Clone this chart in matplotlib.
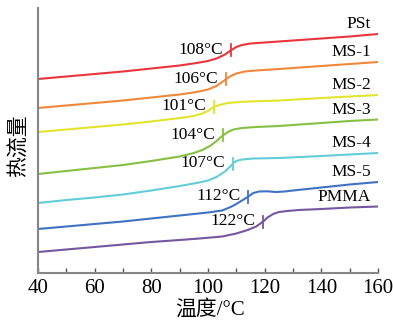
import matplotlib
matplotlib.use("Agg")
import matplotlib.pyplot as plt
import numpy as np

plt.rcParams['font.family'] = ['Liberation Serif', 'Noto Sans CJK SC']

# DSC traces, heat flow in arbitrary stacked units (larger = lower on plot)
names = ["PSt", "MS-1", "MS-2", "MS-3", "MS-4", "MS-5", "PMMA"]
colors = ["#e8363c", "#f0883a", "#e2e42c", "#86c043", "#62cdd8", "#3f72c2", "#74579f"]

pst_t = [40, 50, 60, 70, 80, 90, 96, 100, 103, 106, 108, 110, 112, 115, 120, 130, 140, 150, 160]
pst_q = [79, 76.5, 74, 71.5, 68.5, 65.5, 63, 61, 58.5, 54.5, 50.5, 47, 45, 43.5, 42.5, 40.5, 38.5, 36.5, 34]

ms1_t = [40, 50, 60, 70, 80, 90, 96, 100, 103, 106, 108, 110, 113, 117, 125, 140, 150, 160]
ms1_q = [108, 105.5, 103, 100.5, 97.5, 94.5, 92, 89.5, 86, 80, 76, 73.5, 71.5, 70.5, 69, 66, 64, 62]

ms2_t = [40, 50, 60, 70, 80, 90, 95, 98, 100, 102, 104, 107, 112, 125, 140, 150, 160]
ms2_q = [132, 129.5, 127, 124.5, 121.5, 118, 116, 113.5, 111, 107, 105, 103, 101.8, 100.5, 98, 96.5, 95]

ms3_t = [40, 50, 60, 70, 80, 90, 95, 98, 101, 103, 105, 107, 109, 112, 117, 125, 140, 150, 160]
ms3_q = [174, 171, 168, 165, 161, 156.5, 153, 150, 145.5, 141, 136, 132, 129.5, 128, 127, 126, 123, 121, 119.5]

ms4_t = [40, 50, 60, 70, 80, 90, 96, 100, 103, 106, 108, 109, 110, 112, 116, 125, 140, 150, 160]
ms4_q = [203, 200, 197.5, 194.5, 190.5, 186, 183, 180.5, 177, 171.5, 166, 163, 161, 159.5, 158.5, 158, 156, 154.5, 153]

ms5_t = [40, 50, 60, 70, 80, 90, 100, 105, 108, 110, 112, 114, 116, 118, 121, 124, 127, 130, 140, 150, 160]
ms5_q = [229, 226.5, 224, 221.5, 218.5, 215.5, 212.5, 210.5, 207, 204, 200.5, 197, 193, 191.5, 191.3, 192, 191.5, 190.5, 187.5, 184.5, 182]

pmma_t = [40, 50, 60, 70, 80, 90, 97, 105, 110, 114, 117, 119.5, 121, 123, 125, 128, 132, 140, 150, 160]
pmma_q = [252, 249.5, 247, 244.5, 242, 240, 238.5, 236.5, 233.5, 230, 226.5, 221.5, 217.5, 214, 212, 211, 210, 209, 207.5, 206.5]

temps = [pst_t, ms1_t, ms2_t, ms3_t, ms4_t, ms5_t, pmma_t]
flows = [pst_q, ms1_q, ms2_q, ms3_q, ms4_q, ms5_q, pmma_q]

# glass transition marks
tg_x = [108.1, 106.4, 102.1, 105.3, 108.8, 114.1, 119.4]
tg_labels = ["108°C", "106°C", "101°C", "104°C", "107°C", "112°C", "122°C"]

fig = plt.figure(figsize=(3.93, 3.23), dpi=100)
ax = fig.add_axes([38 / 393, 1 - 273 / 323, 340 / 393, 265 / 323])

for t, q, c, name, tx, lab in zip(temps, flows, colors, names, tg_x, tg_labels):
    ax.plot(t, q, color=c, linewidth=1.5, solid_capstyle='round')
    ty = np.interp(tx, t, q)
    ax.plot([tx, tx], [ty - 6, ty + 6], color=c, linewidth=1.3)
    ax.annotate(lab, (tx, ty), textcoords="offset points", xytext=(-5.5, 0.5),
                ha='right', va='center', fontsize=12.5)
    ax.annotate(name, (t[-1], q[-1]), textcoords="offset points", xytext=(-5, 7),
                ha='right', va='center', fontsize=12.5)

ax.set_xlim(40, 160)
ax.set_ylim(273, 8)
ax.set_xticks(range(40, 161, 20))
ax.set_xticks(range(50, 160, 20), minor=True)
ax.set_yticks([])

for side in ["top", "right"]:
    ax.spines[side].set_visible(False)
for side in ["left", "bottom"]:
    ax.spines[side].set_color("#858585")
    ax.spines[side].set_linewidth(1.5)

ax.tick_params(axis='x', which='both', direction='in', length=3.5, width=1.0,
               color="#555555", labelsize=15, pad=4)

fig.text(210 / 393, 1 - 310 / 323, "温度/°C", ha='center', va='center', fontsize=15)
fig.text(20 / 393, 1 - 146 / 323, "热流量", ha='center', va='center', fontsize=15,
         rotation=90)

fig.savefig("out.png", dpi=100)
